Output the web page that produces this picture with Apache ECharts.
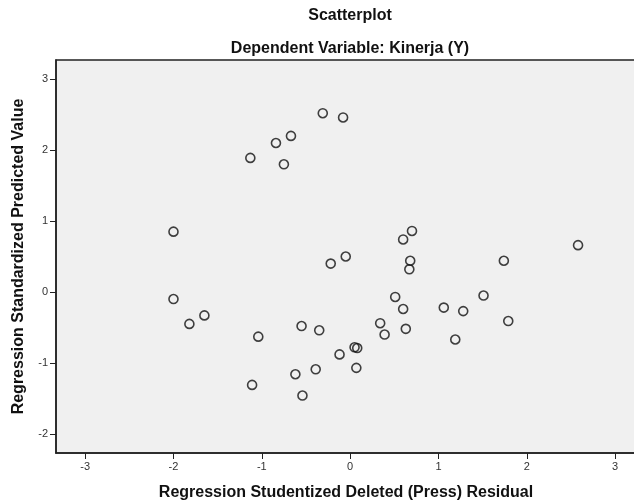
<!DOCTYPE html>
<html>
<head>
<meta charset="utf-8">
<script src="https://cdn.jsdelivr.net/npm/echarts@6/dist/echarts.min.js"></script>
<style>
  html, body { margin: 0; padding: 0; background: #fff; }
  #chart { width: 634px; height: 504px; }
</style>
</head>
<body>
<div id="chart"></div>
<script>
// residual (x) and standardized predicted value (y)
const residual = [
  -0.31, -0.08, -0.67, -0.84, -1.13, -0.75, -2.00, -0.22, -0.05, 0.70,
  0.60, 0.68, 0.67, 2.58, 1.74, -2.00, -1.65, -1.82, -1.04, -0.55,
  -0.35, 0.51, 0.60, 0.34, 0.39, 0.63, 1.06, 1.28, 1.51, 1.79,
  1.19, 0.05, 0.08, -0.12, 0.07, -0.39, -0.62, -1.11, -0.54
];
const predicted = [
  2.52, 2.46, 2.20, 2.10, 1.89, 1.80, 0.85, 0.40, 0.50, 0.86,
  0.74, 0.44, 0.32, 0.66, 0.44, -0.10, -0.33, -0.45, -0.63, -0.48,
  -0.54, -0.07, -0.24, -0.44, -0.60, -0.52, -0.22, -0.27, -0.05, -0.41,
  -0.67, -0.78, -0.79, -0.88, -1.07, -1.09, -1.16, -1.31, -1.46
];
const xTicks = [-3, -2, -1, 0, 1, 2, 3];
const yTicks = [-2, -1, 0, 1, 2, 3];

const points = residual.map((x, i) => [x, predicted[i]]);

const chart = echarts.init(document.getElementById("chart"));
const font = "'Liberation Sans', Arial, sans-serif";
const bold = { fontFamily: font, fontSize: 16, fontWeight: "bold", color: "#111" };

chart.setOption({
  animation: false,
  title: [
    { text: "Scatterplot", left: 345, top: 3, textAlign: "center", textStyle: bold },
    { text: "Dependent Variable: Kinerja (Y)", left: 345, top: 36, textAlign: "center", textStyle: bold },
  ],
  grid: {
    left: 56, top: 60, right: -2, bottom: 51,
    outerBoundsMode: "none",
    show: true, backgroundColor: "#f0f0f0", borderColor: "#222", borderWidth: 1.5,
  },
  xAxis: {
    type: "value",
    min: -3.33, max: 3.236,
    name: "Regression Studentized Deleted (Press) Residual",
    nameLocation: "middle", nameGap: 32,
    nameTextStyle: bold,
    axisLine: { show: true, onZero: false, lineStyle: { color: "#222", width: 1.5 } },
    axisTick: { show: true, length: 6, customValues: xTicks, lineStyle: { color: "#222" } },
    axisLabel: { customValues: xTicks, fontFamily: font, fontSize: 11, color: "#333", margin: 8 },
    splitLine: { show: false },
  },
  yAxis: {
    type: "value",
    min: -2.27, max: 3.27,
    name: "Regression Standardized Predicted Value",
    nameLocation: "middle", nameGap: 29,
    nameTextStyle: bold,
    axisLine: { show: true, onZero: false, lineStyle: { color: "#222", width: 1.5 } },
    axisTick: { show: true, length: 6, customValues: yTicks, lineStyle: { color: "#222" } },
    axisLabel: { customValues: yTicks, fontFamily: font, fontSize: 11, color: "#333", margin: 8 },
    splitLine: { show: false },
  },
  series: [
    {
      type: "scatter",
      data: points,
      symbol: "circle",
      symbolSize: 9,
      itemStyle: { color: "rgba(0,0,0,0)", borderColor: "#111", borderWidth: 1.6 },
    },
  ],
});
</script>
</body>
</html>
